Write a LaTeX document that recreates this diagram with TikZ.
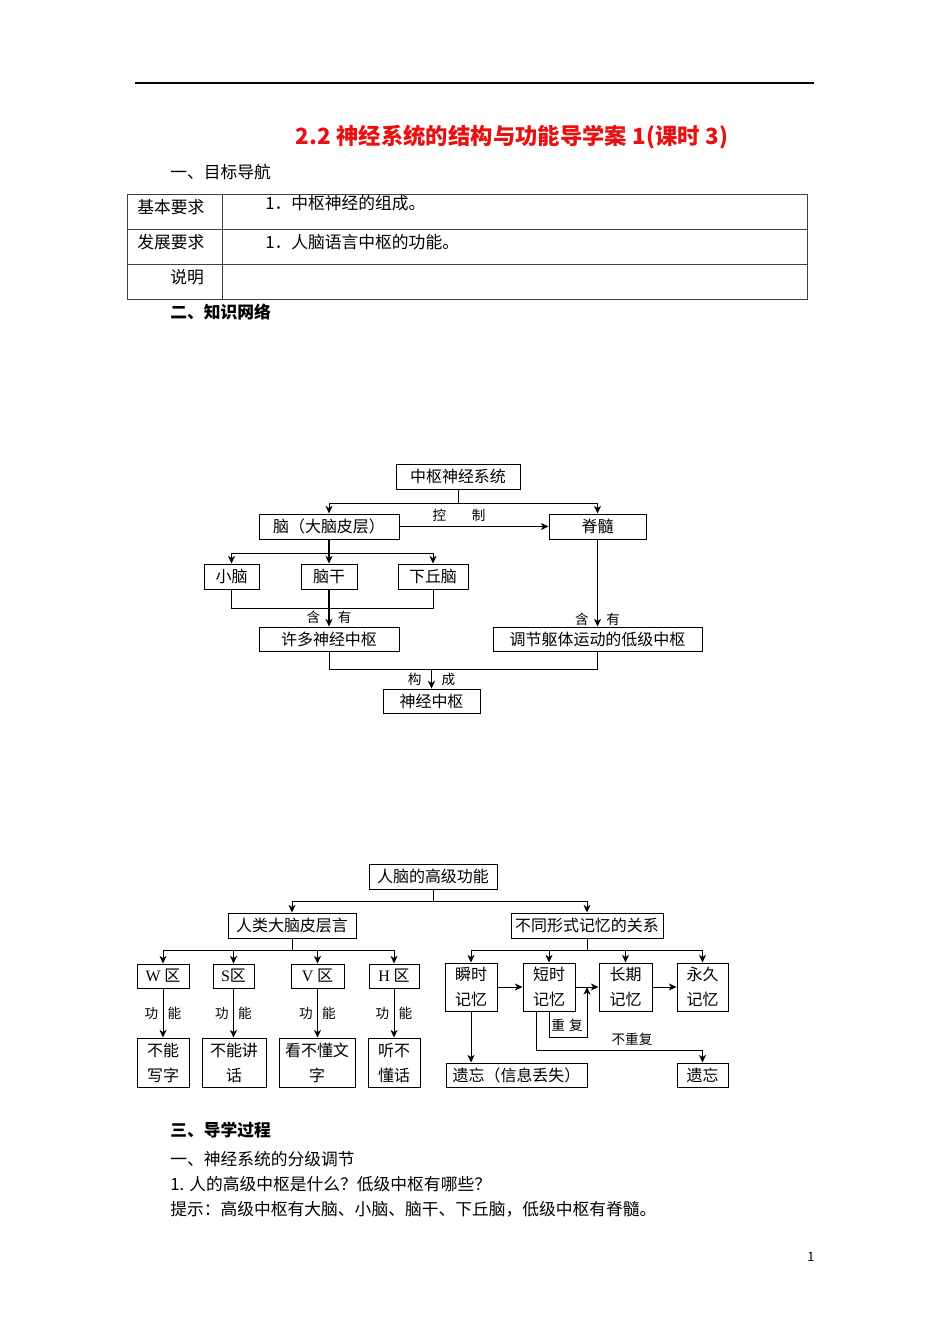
\documentclass[tikz,border=0pt]{standalone}
\usepackage{fontspec}
\setmainfont{Noto Sans CJK SC}
\newfontfamily\latin{Liberation Serif}
\usetikzlibrary{calc,arrows.meta}
\definecolor{titlered}{RGB}{232,16,16}

\begin{document}
\begin{tikzpicture}[
  x=0.6263pt, y=-0.6263pt,
  box/.style={draw, line width=0.6pt, inner sep=0pt, align=center,
              font=\fontsize{10}{15.7}\selectfont},
  wh/.style 2 args={minimum width=#1*0.6263pt, minimum height=#2*0.6263pt},
  arr/.style={-{Stealth[length=4.8pt,width=4.4pt,inset=1.4pt]}, line width=0.6pt},
  ln/.style={line width=0.6pt},
  lbl/.style={inner sep=0pt, font=\fontsize{8.5}{10}\selectfont},
  txt/.style={anchor=west, inner sep=0pt, font=\fontsize{10.5}{12}\selectfont},
  tbl/.style={line width=0.6pt, draw=black!75},
]
  % page
  \useasboundingbox (0,0) rectangle (950,1344);
  \fill[white] (0,0) rectangle (950,1344);
  \draw[line width=0.8pt] (135,83) -- (814,83);

  \node[font=\fontsize{14}{16}\selectfont\bfseries, text=titlered] (title) at (512,137)
    {2.2\hspace{0.25em}神经系统的结构与功能导学案\hspace{0.25em}1(课时\hspace{0.25em}3)};

  % 目标导航
  \node[txt] (sec1) at (170,172) {一、目标导航};
  \draw[tbl] (127,194) rectangle (807,299);
  \draw[tbl] (127,229) -- (807,229) (127,264) -- (807,264) (222,194) -- (222,299);
  \node[txt] (r1a) at (137,207) {基本要求};
  \node[txt] (r1b) at (265,203) {1．中枢神经的组成。};
  \node[txt] (r2a) at (137,242) {发展要求};
  \node[txt] (r2b) at (265,242) {1．人脑语言中枢的功能。};
  \node[txt] (r3a) at (170,277) {说明};
  \node[txt, font=\fontsize{10.5}{12}\selectfont\bfseries] (sec2) at (170,312) {二、知识网络};

  % 中枢神经系统
  \node[box, wh={124}{25}] (cns) at (458,476.5) {中枢神经系统};
  \node[box, wh={140}{25}] (brain) at (329,526.5) {脑（大脑皮层）};
  \node[box, wh={97}{25}] (spine) at (597.5,526.5) {脊髓};
  \node[box, wh={55}{25}] (cereb) at (231.5,576.5) {小脑};
  \node[box, wh={56}{25}] (stem) at (329,576.5) {脑干};
  \node[box, wh={70}{25}] (hypo) at (433,576.5) {下丘脑};
  \node[box, wh={140}{24}] (many) at (329,639) {许多神经中枢};
  \node[box, wh={209}{24}] (low) at (597.5,639) {调节躯体运动的低级中枢};
  \node[box, wh={97}{24}] (nc) at (431.5,701) {神经中枢};

  \draw[arr] (cns.south) -- ++(0,14) -| (brain.north);
  \draw[arr] (cns.south) -- ++(0,14) -| (spine.north);
  \draw[arr] (brain.east) -- node[lbl, above=3pt, pos=0.4]{控\hspace{1.9em}制} (spine.west);
  \draw[arr] (brain.south) -- ++(0,14) -| (cereb.north);
  \draw[arr] (brain.south) -- ++(0,14) -| (hypo.north);
  \draw[arr, line width=1.1pt] (brain.south) -- (stem.north);
  \draw[ln] (cereb.south) -- ++(0,19) -| (hypo.south);
  \draw[arr, line width=1.1pt] (stem.south) -- node[lbl, pos=0.75]{含\hspace{1.3em}有} (many.north);
  \draw[arr] (spine.south) -- node[lbl, pos=0.92]{含\hspace{1.3em}有} (low.north);
  \draw[ln] (many.south) -- ++(0,18) coordinate (mj) -| (low.south);
  \draw[arr] (mj -| nc.north) -- node[lbl]{构\hspace{1.5em}成} (nc.north);

  % 人脑的高级功能
  \node[box, wh={128}{25}] (hfun) at (433,876.5) {人脑的高级功能};
  \node[box, wh={128}{25}] (lang) at (292,925.5) {人类大脑皮层言};
  \node[box, wh={152}{25}] (mem) at (587,925.5) {不同形式记忆的关系};
  \draw[arr] (hfun.south) -- ++(0,12) -| (lang.north);
  \draw[arr] (hfun.south) -- ++(0,12) -| (mem.north);

  \node[box, wh={52}{24}] (wz) at (163,976) {{\latin W} 区};
  \node[box, wh={41}{24}] (sz) at (233.5,976) {{\latin S}区};
  \node[box, wh={53}{24}] (vz) at (317.5,976) {{\latin V} 区};
  \node[box, wh={50}{24}] (hz) at (394,976) {{\latin H} 区};
  \node[box, wh={52}{49}] (wf) at (163,1062.5) {不能\\写字};
  \node[box, wh={64}{49}] (sf) at (234,1062.5) {不能讲\\话};
  \node[box, wh={76}{49}] (vf) at (317,1062.5) {看不懂文\\字};
  \node[box, wh={52}{49}] (hf) at (394,1062.5) {听不\\懂话};
  \foreach \z in {wz,sz,vz,hz}
    \draw[arr] (lang.south) -- ++(0,12) -| (\z.north);
  \foreach \z/\f in {wz/wf,sz/sf,vz/vf,hz/hf}
    \draw[arr] (\z.south) -- node[lbl]{功\hspace{0.7em}能} (\z.south |- \f.north);

  \node[box, wh={52}{48}] (shun) at (471,987) {瞬时\\记忆};
  \node[box, wh={52}{48}] (duan) at (549,987) {短时\\记忆};
  \node[box, wh={53}{48}] (chang) at (625.5,987) {长期\\记忆};
  \node[box, wh={51}{48}] (yong) at (702.5,987) {永久\\记忆};
  \node[box, wh={141}{24}] (yi1) at (516.5,1075) {遗忘（信息丢失）};
  \node[box, wh={51}{24}] (yi2) at (702.5,1075) {遗忘};
  \foreach \m in {shun,duan,chang,yong}
    \draw[arr] (mem.south) -- ++(0,12) -| (\m.north);
  \draw[arr] (shun.east) -- (duan.west);
  \draw[arr] (duan.east) -- (chang.west);
  \draw[arr] (chang.east) -- (yong.west);
  \draw[arr] (duan.south) -- ++(0,26) -| ($(duan.east)!0.5!(chang.west)$);
  \draw[arr] ([xshift=-8.1pt]duan.south) -- ++(0,39) -| (yi2.north);
  \draw[arr] (shun.south) -- (shun.south |- yi1.north);
  \node[lbl] (rep) at (567,1025) {重\hspace{0.3em}复};
  \node[lbl] (norep) at (632,1039) {不重复};

  % 导学过程
  \node[txt, font=\fontsize{10.5}{12}\selectfont\bfseries] (sec3) at (170,1130) {三、导学过程};
  \node[txt] (q0) at (170,1159) {一、神经系统的分级调节};
  \node[txt] (q1) at (170,1184) {1. 人的高级中枢是什么？低级中枢有哪些？};
  \node[txt] (q2) at (170,1209) {提示：高级中枢有大脑、小脑、脑干、下丘脑，低级中枢有脊髓。};
  \node[font=\fontsize{8}{9}\selectfont, inner sep=0pt] (pg) at (811,1257) {1};
\end{tikzpicture}
\end{document}
